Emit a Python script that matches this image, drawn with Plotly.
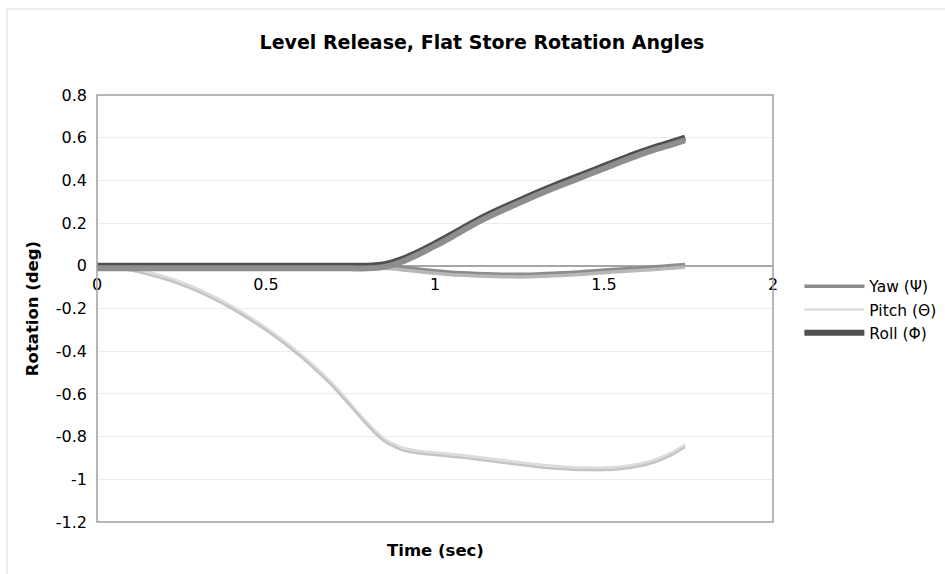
import plotly.graph_objects as go

# Store rotation angles after a level release (deg vs sec)
time_s = [0.0, 0.05, 0.1, 0.15, 0.2, 0.25, 0.3, 0.35, 0.4, 0.45, 0.5, 0.55,
          0.6, 0.65, 0.7, 0.75, 0.8, 0.85, 0.9, 0.95, 1.0, 1.05, 1.1, 1.15,
          1.2, 1.25, 1.3, 1.35, 1.4, 1.45, 1.5, 1.55, 1.6, 1.65, 1.7, 1.74]

yaw = [0, 0, 0, 0, 0, 0, 0, 0, 0, 0, 0, 0,
       0, 0, 0, 0, 0, 0, -0.006, -0.015, -0.023, -0.03, -0.034, -0.037,
       -0.039, -0.04, -0.038, -0.035, -0.031, -0.026, -0.02, -0.015, -0.01, -0.005, 0.001, 0.006]

pitch = [0, -0.002, -0.01, -0.028, -0.05, -0.077, -0.109, -0.147, -0.19, -0.238, -0.29, -0.347,
         -0.41, -0.48, -0.557, -0.645, -0.735, -0.81, -0.85, -0.866, -0.874, -0.882, -0.89, -0.9,
         -0.91, -0.92, -0.93, -0.937, -0.942, -0.945, -0.945, -0.94, -0.928, -0.908, -0.875, -0.837]

roll = [0, 0, 0, 0, 0, 0, 0, 0, 0, 0, 0, 0,
        0, 0, 0, 0, 0, 0.007, 0.03, 0.065, 0.105, 0.148, 0.193, 0.235,
        0.272, 0.307, 0.342, 0.375, 0.406, 0.437, 0.468, 0.499, 0.529, 0.556, 0.58, 0.6]

series_names = ["Yaw (Ψ)", "Pitch (Θ)", "Roll (Φ)"]
y_ticks = [-1.2, -1, -0.8, -0.6, -0.4, -0.2, 0, 0.2, 0.4, 0.6, 0.8]
x_ticks = [0, 0.5, 1, 1.5, 2]

FONT = "DejaVu Sans, Verdana, sans-serif"
Y_RANGE = [-1.2, 0.8]
SHADOW_SHIFT = 0.012  # drop shadow offset in data units

fig = go.Figure()

styles = [
    (yaw, "#8c8c8c", 3.5, "#b8b8b8"),
    (pitch, "#dcdcdc", 2.5, "#c4c4c4"),
    (roll, "#4f4f4f", 6, "#8e8e8e"),
]

# drop shadows drawn on an offset overlay axis
for vals, color, width, shadow in styles:
    fig.add_trace(go.Scatter(x=time_s, y=vals, mode="lines", yaxis="y2",
                             line=dict(color=shadow, width=width, shape="spline", smoothing=0.6),
                             showlegend=False, hoverinfo="skip"))

for name, (vals, color, width, shadow) in zip(series_names, styles):
    fig.add_trace(go.Scatter(x=time_s, y=vals, mode="lines", name=name,
                             line=dict(color=color, width=width, shape="spline", smoothing=0.6)))

fig.update_layout(
    width=945, height=574,
    margin=dict(l=97, r=172, t=95, b=52, autoexpand=False),
    paper_bgcolor="white", plot_bgcolor="white",
    font=dict(family=FONT, size=16, color="#000000"),
    title=dict(text="<b>Level Release, Flat Store Rotation Angles</b>",
               x=0.51, xanchor="center", y=0.927, yanchor="middle",
               font=dict(family=FONT, size=19, color="#000000")),
    xaxis=dict(range=[0, 2], tickvals=x_ticks, ticktext=["0", "0.5", "1", "1.5", "2"],
               anchor="free", position=0.6, showgrid=False, zeroline=False,
               showline=False, ticks="", ticklabelstandoff=7, tickfont=dict(size=16)),
    yaxis=dict(range=Y_RANGE, tickvals=y_ticks,
               ticktext=["-1.2", "-1", "-0.8", "-0.6", "-0.4", "-0.2", "0", "0.2", "0.4", "0.6", "0.8"],
               showgrid=True, gridcolor="#ececec", gridwidth=1,
               zeroline=True, zerolinecolor="#a6a6a6", zerolinewidth=1.5,
               showline=False, ticks="", ticklabelstandoff=9, tickfont=dict(size=16),
               title=dict(text="<b>Rotation (deg)</b>", standoff=13,
                          font=dict(family=FONT, size=16.5))),
    yaxis2=dict(range=[Y_RANGE[0] + SHADOW_SHIFT, Y_RANGE[1] + SHADOW_SHIFT],
                overlaying="y", visible=False),
    legend=dict(x=1.039, xanchor="left", y=0.497, yanchor="middle",
                font=dict(family=FONT, size=15.5), itemwidth=60,
                bgcolor="rgba(0,0,0,0)", traceorder="normal"),
    shapes=[
        # plot area frame
        dict(type="rect", xref="x domain", yref="y domain", x0=0, x1=1, y0=0, y1=1,
             line=dict(color="#a0a0a0", width=1.5), layer="above"),
        # chart area border
        dict(type="rect", xref="paper", yref="paper", x0=-0.1331, x1=2, y0=-1, y1=1.2014,
             line=dict(color="#d9d9d9", width=1), layer="below"),
    ],
    annotations=[
        dict(text="<b>Time (sec)</b>", xref="paper", yref="paper", x=0.5, y=-0.0656,
             xanchor="center", yanchor="middle", showarrow=False,
             font=dict(family=FONT, size=16.5, color="#000000")),
    ],
)

fig.write_html("out.html")
